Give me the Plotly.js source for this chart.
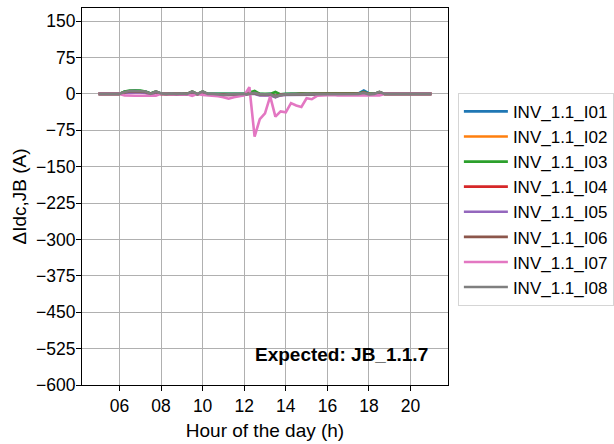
<!DOCTYPE html>
<html>
<head>
<meta charset="utf-8">
<script src="https://cdn.plot.ly/plotly-3.0.1.min.js"></script>
<style>html,body{margin:0;padding:0;background:#fff;}#chart{width:614px;height:444px;}</style>
</head>
<body>
<div id="chart"></div>
<script>
const hours = [5.00,5.25,5.50,5.75,6.00,6.25,6.50,6.75,7.00,7.25,7.50,7.75,8.00,
  8.25,8.50,8.75,9.00,9.25,9.50,9.75,10.00,10.25,10.50,10.75,11.00,11.25,
  11.50,11.75,12.00,12.25,12.50,12.75,13.00,13.25,13.50,13.75,14.00,14.25,14.50,
  14.75,15.00,15.25,15.50,15.75,16.00,16.25,16.50,16.75,17.00,17.25,17.50,17.75,
  18.00,18.25,18.50,18.75,19.00,19.25,19.50,19.75,20.00,20.25,20.50,20.75,21.00];

const seriesNames = ['INV_1.1_I01','INV_1.1_I02','INV_1.1_I03','INV_1.1_I04','INV_1.1_I05','INV_1.1_I06','INV_1.1_I07','INV_1.1_I08'];

const inv01 = [0,0,0,0,0,5,6,7,6,5,1,4,1,
  0,1,0,1,0,4,0,4,0,0,0,-1,-1,
  0,0,0,1,2,0,-1,0,-4,-1,0,0,0,
  1,0,0,0,0,0,0,0,0,0,1,1,7,
  1,0,3,0,0,0,0,0,0,0,0,0,0];
const inv02 = [0,0,0,0,0,4,5,5,5,4,0,3,0,
  0,1,0,0,0,3,-1,3,-1,-1,-1,-2,-2,
  -1,-1,-1,0,1,-1,-2,-1,-5,-2,-1,-1,-1,
  0,-1,-1,-1,-1,-1,-1,-1,-1,0,0,0,3,
  0,-1,2,0,0,0,0,0,0,0,0,0,0];
const inv03 = [0,0,0,0,0,5,7,7,7,5,1,5,1,
  0,1,0,1,0,5,0,5,0,0,-1,-1,-1,
  0,0,0,3,6,0,0,0,4,-1,0,0,0,
  1,0,0,0,0,0,0,0,0,0,0,1,4,
  0,0,4,0,0,0,0,0,0,0,0,0,0];
const inv04 = [0,0,0,0,0,3,4,4,4,3,0,3,0,
  0,0,0,0,-1,3,-1,3,-1,-1,-2,-2,-2,
  -1,-1,-1,1,1,-2,-2,-2,-6,-2,-1,-1,-1,
  0,-1,-1,-1,-1,-1,-1,-1,-1,-1,0,0,2,
  -1,-1,2,0,0,0,0,0,0,0,0,0,0];
const inv05 = [0,0,0,0,0,2,3,3,3,2,-1,2,0,
  0,0,0,0,-1,2,-1,2,-1,-2,-2,-3,-3,
  -2,-2,-2,0,0,-3,-3,-3,-7,-3,-2,-2,-2,
  -1,-1,-1,-1,-2,-1,-1,-1,-1,-1,-1,0,2,
  -1,-1,1,0,0,0,0,0,0,0,0,0,0];
const inv06 = [0,0,0,0,0,3,5,5,5,4,0,4,0,
  0,0,0,1,0,4,-1,4,-1,-1,-1,-2,-2,
  -1,-1,-1,1,1,-1,-1,-1,-5,-2,-1,-1,-1,
  0,0,-1,-1,-1,-1,-1,-1,-1,0,-1,0,3,
  -1,0,3,0,0,0,0,0,0,0,0,0,0];
const inv07 = [0,0,0,0,0,-3,-4,-4,-4,-4,-3,-4,0,
  0,0,0,0,-1,-4,0,-2,-3,-3,-5,-7,-10,
  -7,-5,-3,14,-88,-52,-40,-5,-47,-36,-38,-19,-24,
  -27,-9,-11,-4,-3,-2,-2,-3,-3,-3,-3,-2,-3,
  -3,-2,-3,0,0,0,0,0,0,0,0,0,0];
const inv08 = [0,0,0,0,0,4,6,6,6,5,0,5,1,
  0,1,0,1,0,5,-1,5,0,0,-1,-2,-1,
  -1,-1,0,0,2,-1,-1,-1,-6,-2,-1,-1,-1,
  0,0,0,0,-1,0,0,0,0,0,-1,0,2,
  -1,0,4,0,0,0,0,0,0,0,0,0,0];

const xTickVals = [6,8,10,12,14,16,18,20];
const xTickText = ['06','08','10','12','14','16','18','20'];
const yTickVals = [150,75,0,-75,-150,-225,-300,-375,-450,-525,-600];
const yTickText = ['150','75','0','\u221275','\u2212150','\u2212225','\u2212300','\u2212375','\u2212450','\u2212525','\u2212600'];

const colors = ['#1f77b4','#ff7f0e','#2ca02c','#d62728','#9467bd','#8c564b','#e377c2','#7f7f7f'];
const allSeries = [inv01,inv02,inv03,inv04,inv05,inv06,inv07,inv08];

const traces = allSeries.map((ys,i) => ({
  x: hours, y: ys, type: 'scatter', mode: 'lines', name: seriesNames[i],
  line: {color: colors[i], width: 2.6}
}));

const font = 'Liberation Sans, Arial, sans-serif';
const layout = {
  width: 614, height: 444,
  margin: {l: 82, r: 166, t: 8, b: 59, autoexpand: false},
  paper_bgcolor: '#fff', plot_bgcolor: '#fff',
  font: {family: font, size: 19, color: '#000'},
  showlegend: true,
  xaxis: {
    range: [4.2, 21.8], tickvals: xTickVals, ticktext: xTickText,
    ticks: 'outside', ticklen: 5, tickcolor: '#000', tickwidth: 1,
    showgrid: true, gridcolor: '#b0b0b0', gridwidth: 1,
    showline: true, mirror: true, linecolor: '#000', linewidth: 1,
    zeroline: false, tickfont: {size: 17.5},
    title: {text: 'Hour of the day (h)', font: {size: 19}, standoff: 8}
  },
  yaxis: {
    range: [-600, 177], tickvals: yTickVals, ticktext: yTickText,
    ticks: 'outside', ticklen: 5, tickcolor: '#000', tickwidth: 1,
    showgrid: true, gridcolor: '#b0b0b0', gridwidth: 1,
    showline: true, mirror: true, linecolor: '#000', linewidth: 1,
    zeroline: false, tickfont: {size: 17.5}, ticklabelstandoff: -3,
    title: {text: '\u0394Idc,JB (A)', font: {size: 19}, standoff: 4}
  },
  legend: {
    x: 1.027, y: 0.775, xanchor: 'left', yanchor: 'top',
    font: {size: 17}, bgcolor: '#fff', bordercolor: '#d5d5d5', borderwidth: 1,
    tracegroupgap: 0, itemwidth: 44
  },
  annotations: [{
    xref: 'paper', yref: 'paper', x: 0.951, y: 0.08, xanchor: 'right', yanchor: 'middle',
    text: '<b>Expected: JB_1.1.7</b>', showarrow: false, font: {size: 19, color: '#000'}
  }]
};

Plotly.newPlot('chart', traces, layout, {displayModeBar: false, staticPlot: true});
</script>
</body>
</html>
